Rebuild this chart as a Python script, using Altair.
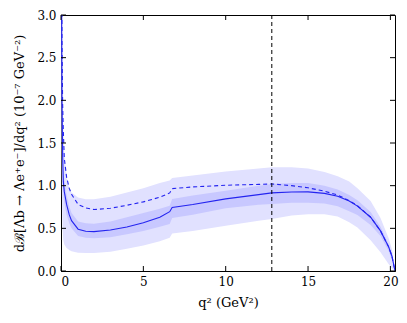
import altair as alt
import pandas as pd

q = [0.03, 0.06, 0.1, 0.14, 0.2, 0.34, 0.5, 0.64, 1.04, 1.5, 2, 3, 4, 5, 6, 6.6, 6.75,
     8, 10, 12, 12.8, 14, 15, 16, 16.8, 17.5, 18, 18.8, 19.4, 19.9, 20.1, 20.28]
solid = [3.6, 2.0, 1.35, 1.05, 0.93, 0.78, 0.66, 0.59, 0.49, 0.465, 0.462, 0.48, 0.515, 0.565, 0.63, 0.695, 0.745,
         0.78, 0.845, 0.895, 0.915, 0.925, 0.927, 0.91, 0.877, 0.82, 0.76, 0.63, 0.47, 0.28, 0.17, 0.0]
dashed = [4.5, 2.7, 1.95, 1.65, 1.32, 1.1, 0.97, 0.90, 0.78, 0.74, 0.72, 0.735, 0.77, 0.81, 0.865, 0.915, 0.965,
          0.985, 1.005, 1.015, 1.02, 1.0, 0.975, 0.935, 0.89, 0.825, 0.765, 0.63, 0.47, 0.28, 0.17, 0.0]
in_lo = [3.2, 1.75, 1.15, 0.92, 0.80, 0.66, 0.56, 0.50, 0.41, 0.39, 0.385, 0.395, 0.43, 0.47, 0.52, 0.55, 0.62,
         0.66, 0.735, 0.775, 0.785, 0.80, 0.80, 0.79, 0.76, 0.70, 0.655, 0.54, 0.41, 0.23, 0.13, 0.0]
in_hi = [4.0, 2.3, 1.55, 1.18, 1.06, 0.89, 0.76, 0.68, 0.58, 0.56, 0.555, 0.58, 0.63, 0.68, 0.73, 0.765, 0.845,
         0.885, 0.94, 1.0, 1.02, 1.03, 1.03, 1.0, 0.955, 0.89, 0.83, 0.69, 0.52, 0.31, 0.2, 0.0]
out_lo = [1.5, 0.85, 0.48, 0.36, 0.31, 0.27, 0.245, 0.23, 0.215, 0.21, 0.21, 0.225, 0.26, 0.30, 0.35, 0.39, 0.44,
          0.47, 0.53, 0.59, 0.61, 0.65, 0.665, 0.665, 0.64, 0.57, 0.51, 0.36, 0.22, 0.08, 0.03, 0.0]
out_hi = [6.0, 3.5, 2.2, 1.7, 1.4, 1.1, 0.97, 0.92, 0.86, 0.84, 0.84, 0.87, 0.92, 0.97, 1.03, 1.06, 1.09,
          1.12, 1.165, 1.2, 1.215, 1.215, 1.2, 1.16, 1.11, 1.05, 0.97, 0.82, 0.62, 0.38, 0.25, 0.0]

vline_q = [12.8]
x_ticks = [0, 5, 10, 15, 20]
y_ticks = [0.0, 0.5, 1.0, 1.5, 2.0, 2.5, 3.0]

W, H = 334, 256
FONT = "DejaVu Serif"

df = pd.DataFrame(dict(q=q, solid=solid, dashed=dashed, in_lo=in_lo, in_hi=in_hi,
                       out_lo=out_lo, out_hi=out_hi))
xs = alt.Scale(domain=[0, 20.28], nice=False, zero=False)
ys = alt.Scale(domain=[0, 3.0], nice=False)

XT = "q²  (GeV²)"
YT = "dℬ[Λb → Λe⁺e⁻]/dq²  (10⁻⁷ GeV⁻²)"
xaxis = alt.Axis(values=x_ticks, format="d", title=XT, labelPadding=5, titlePadding=9,
                 labelFont=FONT, titleFont=FONT)
yaxis = alt.Axis(values=y_ticks, format=".1f", title=YT, labelPadding=5, titlePadding=10,
                 labelFont=FONT, titleFont=FONT)


def X(f):
    return alt.X(f, scale=xs, axis=xaxis, title=XT)


def Y(f):
    return alt.Y(f, scale=ys, axis=yaxis, title=YT)


base = alt.Chart(df)
outer = base.mark_area(color="#e1e1ff", clip=True).encode(x=X("q:Q"), y=Y("out_lo:Q"), y2="out_hi:Q")
inner = base.mark_area(color="#c8c8ff", clip=True).encode(x=X("q:Q"), y=Y("in_lo:Q"), y2="in_hi:Q")
dash = base.mark_line(color="#2424f0", strokeWidth=1.1, strokeDash=[4, 3], clip=True).encode(
    x=X("q:Q"), y=Y("dashed:Q"))
line = base.mark_line(color="#2424f0", strokeWidth=1.1, clip=True).encode(
    x=X("q:Q"), y=Y("solid:Q"))
vline = alt.Chart(pd.DataFrame(dict(v=vline_q))).mark_rule(
    color="black", strokeWidth=1, strokeDash=[4, 3]).encode(x=X("v:Q"))

xt = pd.DataFrame(dict(t=x_ticks))
yt = pd.DataFrame(dict(t=y_ticks))
tick_b = alt.Chart(xt).mark_rule(color="black", strokeWidth=1).encode(
    x=X("t:Q"), y=alt.value(H), y2=alt.value(H - 5))
tick_t = alt.Chart(xt).mark_rule(color="black", strokeWidth=1).encode(
    x=X("t:Q"), y=alt.value(0), y2=alt.value(5))
tick_l = alt.Chart(yt).mark_rule(color="black", strokeWidth=1).encode(
    y=Y("t:Q"), x=alt.value(0), x2=alt.value(5))
tick_r = alt.Chart(yt).mark_rule(color="black", strokeWidth=1).encode(
    y=Y("t:Q"), x=alt.value(W), x2=alt.value(W - 5))

chart = alt.layer(outer, inner, dash, line, vline, tick_b, tick_t, tick_l, tick_r).properties(
    width=W, height=H,
    autosize=alt.AutoSizeParams(type="none"),
    padding={"left": 53, "top": 7, "right": 4, "bottom": 44},
).configure_axis(
    labelFont=FONT, titleFont=FONT, labelFontSize=12, titleFontSize=13,
    titleFontWeight="normal", labelColor="black", titleColor="black",
    domainColor="black", domainWidth=1, ticks=False, grid=False,
).configure_view(stroke="black", strokeWidth=1)

chart.save("out.html", embed_options={"renderer": "svg", "actions": False})
